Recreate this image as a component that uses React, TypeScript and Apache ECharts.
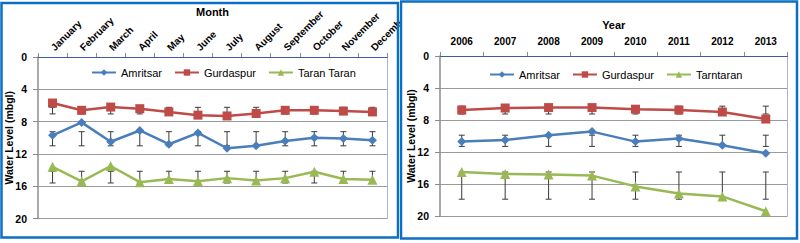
import React, { useEffect, useRef } from "react";
import * as echarts from "echarts";

// ---- Data: monthly panel ----
const months = [
  "January", "February", "March", "April", "May", "June",
  "July", "August", "September", "October", "November", "December",
];
const amritsarMonthly = [9.7, 8.1, 10.5, 9.1, 10.8, 9.4, 11.3, 11.0, 10.4, 10.0, 10.1, 10.3];
const gurdaspurMonthly = [5.7, 6.6, 6.2, 6.4, 6.8, 7.2, 7.3, 7.0, 6.6, 6.6, 6.7, 6.8];
const taranMonthly = [13.6, 15.4, 13.5, 15.5, 15.1, 15.4, 15.0, 15.3, 15.0, 14.2, 15.1, 15.2];
// error bar ranges [low, high] (water level, mbgl)
const amritsarMonthlyErr = [9.25, 11.0];
const gurdaspurMonthlyErr = [6.23, 7.05];
const taranMonthlyErr = [14.15, 15.6];

// ---- Data: yearly panel ----
const years = ["2006", "2007", "2008", "2009", "2010", "2011", "2012", "2013"];
const amritsarYearly = [10.7, 10.5, 9.9, 9.45, 10.7, 10.3, 11.15, 12.15];
const gurdaspurYearly = [6.75, 6.5, 6.45, 6.45, 6.65, 6.75, 7.0, 7.88];
const tarntaranYearly = [14.5, 14.75, 14.8, 14.95, 16.3, 17.2, 17.55, 19.4];
const amritsarYearlyErr = [9.9, 11.3];
const gurdaspurYearlyErr = [6.27, 7.25];
const tarntaranYearlyErr = [14.5, 17.9];

const yTicks = [0, 4, 8, 12, 16, 20];

const BLUE = "#4A7EBB";
const RED = "#BE4B48";
const GREEN = "#98B954";
const FONT = "Liberation Sans";

function errSeries(cats: string[], range: number[]) {
  return {
    type: "custom",
    z: 1,
    silent: true,
    renderItem: (params: any, api: any) => {
      const lo = api.coord([api.value(0), api.value(1)]);
      const hi = api.coord([api.value(0), api.value(2)]);
      const w = 3;
      const st = { stroke: "#3a3a3a", lineWidth: 1 };
      return {
        type: "group",
        children: [
          { type: "line", shape: { x1: lo[0], y1: lo[1], x2: hi[0], y2: hi[1] }, style: st },
          { type: "line", shape: { x1: lo[0] - w, y1: lo[1], x2: lo[0] + w, y2: lo[1] }, style: st },
          { type: "line", shape: { x1: hi[0] - w, y1: hi[1], x2: hi[0] + w, y2: hi[1] }, style: st },
        ],
      };
    },
    data: cats.map((_, i) => [i, range[0], range[1]]),
  };
}

function lineSeries(name: string, data: number[], color: string, symbol: string, size: number) {
  return {
    type: "line",
    name,
    data,
    z: 3,
    symbol,
    symbolSize: size,
    lineStyle: { color, width: 2.5 },
    itemStyle: { color },
  };
}

function buildOption(p: {
  cats: string[];
  axisName: string;
  nameGap: number;
  rotate: number;
  labelMargin: number;
  grid: any;
  legendLeft: number;
  legendTop: number;
  names: string[];
  series: number[][];
  errs: number[][];
  border: any;
}) {
  const colors = [BLUE, RED, GREEN];
  const symbols = ["diamond", "rect", "triangle"];
  const sizes = [9, 9, 10];
  return {
    animation: false,
    textStyle: { fontFamily: FONT },
    graphic: [
      {
        type: "rect",
        shape: p.border,
        style: { fill: "none", stroke: "#0B6FC3", lineWidth: 2.5 },
        z: 100,
      },
    ],
    legend: {
      left: p.legendLeft,
      top: p.legendTop,
      itemWidth: 24,
      itemHeight: 8,
      itemGap: 12,
      textStyle: { fontFamily: FONT, fontSize: 11, color: "#000" },
      data: p.names,
    },
    grid: { ...p.grid, containLabel: false, outerBoundsMode: "none" },
    xAxis: [
      {
        type: "category",
        position: "top",
        data: p.cats,
        boundaryGap: true,
        name: p.axisName,
        nameLocation: "middle",
        nameGap: p.nameGap,
        nameMoveOverlap: false,
        nameTextStyle: { fontFamily: FONT, fontWeight: "bold", fontSize: 11, color: "#000" },
        axisLine: { show: true, lineStyle: { color: "#8C8C8C", width: 1 } },
        axisTick: { show: true, inside: false, length: 4, lineStyle: { color: "#8C8C8C" } },
        axisLabel: {
          rotate: p.rotate,
          margin: p.labelMargin,
          fontFamily: FONT,
          fontWeight: "bold",
          fontSize: 10,
          color: "#000",
          interval: 0,
          hideOverlap: false,
        },
        splitLine: { show: false },
      },
      {
        type: "category",
        position: "bottom",
        data: p.cats,
        axisLine: { show: true, lineStyle: { color: "#3E5C9E", width: 1 } },
        axisTick: { show: false },
        axisLabel: { show: false },
      },
    ],
    yAxis: [
      {
        type: "value",
        inverse: true,
        min: yTicks[0],
        max: yTicks[yTicks.length - 1],
        interval: 4,
        name: "Water Level (mbgl)",
        nameLocation: "middle",
        nameGap: 24,
        nameMoveOverlap: false,
        nameTextStyle: { fontFamily: FONT, fontWeight: "bold", fontSize: 10.5, color: "#000" },
        axisLine: { show: true, lineStyle: { color: "#8C8C8C", width: 1.5 } },
        axisTick: { show: true, inside: false, length: 5, lineStyle: { color: "#8C8C8C" } },
        axisLabel: { margin: 11, fontFamily: FONT, fontWeight: "bold", fontSize: 10.5, color: "#000" },
        splitLine: { show: true, lineStyle: { color: "#9A9A9A", width: 1 } },
      },
      {
        type: "value",
        position: "right",
        inverse: true,
        min: yTicks[0],
        max: yTicks[yTicks.length - 1],
        interval: 4,
        axisLine: { show: true, lineStyle: { color: "#A9B6CF", width: 1 } },
        axisTick: { show: false },
        axisLabel: { show: false },
        splitLine: { show: false },
      },
    ],
    series: [
      errSeries(p.cats, p.errs[0]),
      errSeries(p.cats, p.errs[1]),
      errSeries(p.cats, p.errs[2]),
      ...p.series.map((d, i) => lineSeries(p.names[i], d, colors[i], symbols[i], sizes[i])),
    ],
  };
}

export default function App() {
  const leftRef = useRef<HTMLDivElement>(null);
  const rightRef = useRef<HTMLDivElement>(null);

  useEffect(() => {
    const left = echarts.init(leftRef.current!, null, { renderer: "svg" });
    const right = echarts.init(rightRef.current!, null, { renderer: "svg" });

    left.setOption(
      buildOption({
        cats: months,
        axisName: "Month",
        nameGap: 40,
        rotate: 45,
        labelMargin: 8,
        grid: { left: 38, right: 13, top: 57, bottom: 24.5 },
        legendLeft: 86,
        legendTop: 62,
        names: ["Amritsar", "Gurdaspur", "Taran Taran"],
        series: [amritsarMonthly, gurdaspurMonthly, taranMonthly],
        errs: [amritsarMonthlyErr, gurdaspurMonthlyErr, taranMonthlyErr],
        border: { x: 1.5, y: 3, width: 396.5, height: 234.5 },
      })
    );

    right.setOption(
      buildOption({
        cats: years,
        axisName: "Year",
        nameGap: 26,
        rotate: 0,
        labelMargin: 10,
        grid: { left: 40, right: 12.5, top: 56, bottom: 27 },
        legendLeft: 84,
        legendTop: 64,
        names: ["Amritsar", "Gurdaspur", "Tarntaran"],
        series: [amritsarYearly, gurdaspurYearly, tarntaranYearly],
        errs: [amritsarYearlyErr, gurdaspurYearlyErr, tarntaranYearlyErr],
        border: { x: 1, y: 1.5, width: 396, height: 237 },
      })
    );

    return () => {
      left.dispose();
      right.dispose();
    };
  }, []);

  return (
    <div style={{ position: "absolute", left: 0, top: 0, width: 800, height: 243, background: "#fff" }}>
      <div ref={leftRef} style={{ position: "absolute", left: 0, top: 0, width: 400, height: 243 }} />
      <div ref={rightRef} style={{ position: "absolute", left: 400, top: 0, width: 400, height: 243 }} />
    </div>
  );
}
